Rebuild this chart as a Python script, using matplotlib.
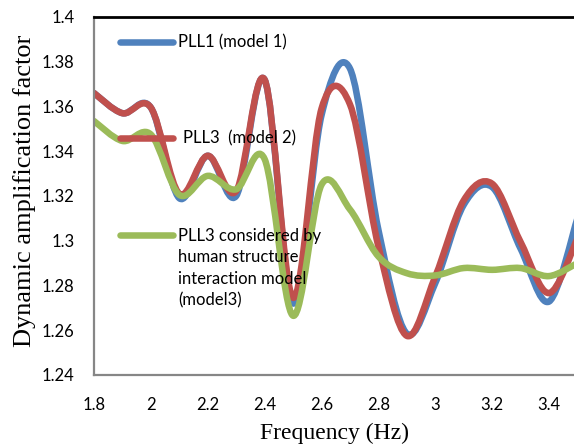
import matplotlib
matplotlib.use("Agg")
import matplotlib.pyplot as plt
from matplotlib.path import Path
from matplotlib.patches import PathPatch
from matplotlib.lines import Line2D

# ---- data ----
freq = [1.8, 1.9, 2.0, 2.1, 2.2, 2.3, 2.4, 2.5, 2.6, 2.7, 2.8, 2.9, 3.0, 3.1, 3.2, 3.3, 3.4, 3.5]
pll1_model1 = [1.366, 1.357, 1.3595, 1.319, 1.338, 1.320, 1.372, 1.272, 1.356, 1.377,
               1.305, 1.2585, 1.281, 1.316, 1.324, 1.2965, 1.2728, 1.310]
pll3_model2 = [1.366, 1.357, 1.3595, 1.321, 1.338, 1.3222, 1.372, 1.2745, 1.359, 1.361,
               1.2975, 1.2575, 1.284, 1.318, 1.3255, 1.2995, 1.2766, 1.301]
pll3_model3 = [1.3535, 1.3446, 1.3475, 1.3205, 1.329, 1.323, 1.3365, 1.2665, 1.325, 1.314,
               1.293, 1.2855, 1.2845, 1.2878, 1.287, 1.2878, 1.2842, 1.290]

labels = ["PLL1 (model 1)", "PLL3  (model 2)",
          "PLL3 considered by\nhuman structure\ninteraction model\n(model3)"]
colors = ["#4F81BD", "#C0504D", "#9BBB59"]
xticks = [1.8, 2.0, 2.2, 2.4, 2.6, 2.8, 3.0, 3.2, 3.4]
xtick_labels = ["1.8", "2", "2.2", "2.4", "2.6", "2.8", "3", "3.2", "3.4"]
yticks = [1.24, 1.26, 1.28, 1.30, 1.32, 1.34, 1.36, 1.38, 1.40]
ytick_labels = ["1.24", "1.26", "1.28", "1.3", "1.32", "1.34", "1.36", "1.38", "1.4"]


def smooth_path(xs, ys):
    """Excel-style smoothed line: cubic Bezier through the points."""
    n = len(xs)
    verts = [(xs[0], ys[0])]
    codes = [Path.MOVETO]
    for i in range(n - 1):
        i0 = max(i - 1, 0)
        i3 = min(i + 2, n - 1)
        c1 = (xs[i] + (xs[i + 1] - xs[i0]) / 6.0, ys[i] + (ys[i + 1] - ys[i0]) / 6.0)
        c2 = (xs[i + 1] - (xs[i3] - xs[i]) / 6.0, ys[i + 1] - (ys[i3] - ys[i]) / 6.0)
        verts += [c1, c2, (xs[i + 1], ys[i + 1])]
        codes += [Path.CURVE4] * 3
    return Path(verts, codes)


fig = plt.figure(figsize=(5.74, 4.45), dpi=100)
ax = fig.add_axes([94 / 574, 70 / 445, 480 / 574, 358 / 445])

for ys, c in zip([pll1_model1, pll3_model2, pll3_model3], colors):
    patch = PathPatch(smooth_path(freq, ys), facecolor="none", edgecolor=c,
                      lw=4.7, capstyle="round", joinstyle="round")
    ax.add_patch(patch)

ax.set_xlim(1.8, 3.488)
ax.set_ylim(1.24, 1.40)
ax.set_xticks(xticks)
ax.set_xticklabels(xtick_labels)
ax.set_yticks(yticks)
ax.set_yticklabels(ytick_labels)
ax.tick_params(length=0, labelsize=12, pad=14)
ax.tick_params(axis="x", pad=16)
for lab in ax.get_xticklabels() + ax.get_yticklabels():
    lab.set_fontfamily("Lato")

for s in ["left", "bottom"]:
    ax.spines[s].set_color("#868686")
    ax.spines[s].set_linewidth(1.6)
ax.spines["top"].set_color("black")
ax.spines["top"].set_linewidth(2.0)
ax.spines["right"].set_visible(False)

ax.set_xlabel("Frequency (Hz)", family="Liberation Serif", fontsize=17, va="center")
ax.xaxis.set_label_coords(0.5, -0.162)
ax.set_ylabel("Dynamic amplification factor", family="Liberation Serif", fontsize=19,
              va="center")
ax.yaxis.set_label_coords(-0.144, 0.514)

# manual legend (Excel free-floating layout)
leg_y = [0.930, 0.662, 0.391]
txt_x = [0.175, 0.185, 0.175]
for y, c, lab, tx in zip(leg_y, colors, labels, txt_x):
    ax.add_line(Line2D([0.054, 0.165], [y, y], transform=ax.transAxes, color=c,
                       lw=4.7, solid_capstyle="round"))
    if "\n" in lab:
        ax.text(tx, y + 0.020, lab, transform=ax.transAxes, ha="left", va="top",
                fontsize=12, family="Lato", linespacing=1.42)
    else:
        ax.text(tx, y, lab, transform=ax.transAxes, ha="left", va="center",
                fontsize=12, family="Lato")

fig.savefig("out.png", dpi=100)
